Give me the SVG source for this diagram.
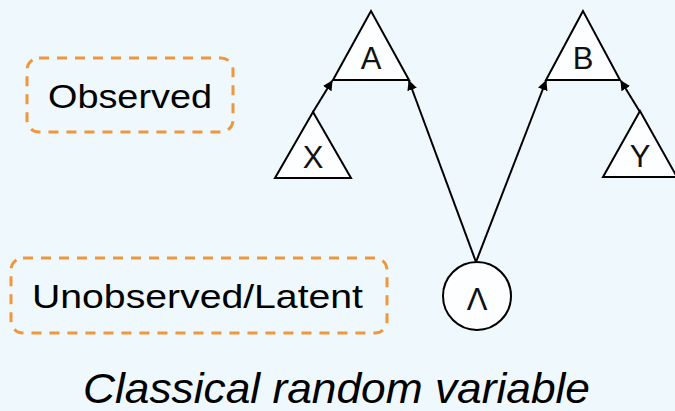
<svg xmlns="http://www.w3.org/2000/svg" width="675" height="411" viewBox="0 0 675 411">
  <defs>
    <style>
      .node { fill: #fcfeff; stroke: #000; stroke-width: 2; }
      .lbl { font-family: "Liberation Sans", Arial, sans-serif; font-size: 31px; fill: #111; text-anchor: middle; }
      .legend { fill: none; stroke: #f0963c; stroke-width: 3; stroke-dasharray: 10 8; }
      .legend-text { font-family: "Liberation Sans", Arial, sans-serif; font-size: 34px; fill: #000; }
      .edge { stroke: #000; stroke-width: 2; fill: none; marker-end: url(#arrow); }
    </style>
    <marker id="arrow" viewBox="0 0 10 10" refX="9" refY="5" markerWidth="5" markerHeight="5" orient="auto" markerUnits="strokeWidth">
      <path d="M0,0 L10,5 L0,10 z" fill="#000"/>
    </marker>
  </defs>

  <rect width="675" height="411" fill="#eff8fc"/>

  <!-- legend -->
  <g id="legend-observed">
    <rect class="legend" x="27" y="58" width="206" height="74" rx="12"/>
    <text class="legend-text" x="48" y="108" textLength="164" lengthAdjust="spacingAndGlyphs">Observed</text>
  </g>
  <g id="legend-latent">
    <rect class="legend" x="11" y="258" width="376" height="75" rx="12"/>
    <text class="legend-text" x="32" y="308" textLength="331" lengthAdjust="spacingAndGlyphs">Unobserved/Latent</text>
  </g>

  <!-- connectors -->
  <g id="edges">
    <line class="edge" x1="313" y1="112" x2="332" y2="81"/>
    <line class="edge" x1="476" y1="262" x2="409" y2="81"/>
    <line class="edge" x1="476" y1="262" x2="546" y2="81"/>
    <line class="edge" x1="640" y1="112" x2="621" y2="81"/>
  </g>

  <!-- nodes -->
  <g id="node-A">
    <polygon class="node" points="371,11 333,80 409,80"/>
    <text class="lbl" x="371" y="69">A</text>
  </g>
  <g id="node-B">
    <polygon class="node" points="583,11 546,80 620,80"/>
    <text class="lbl" x="583" y="69">B</text>
  </g>
  <g id="node-X">
    <polygon class="node" points="313,112 275,178 351,178"/>
    <text class="lbl" x="313" y="168">X</text>
  </g>
  <g id="node-Y">
    <polygon class="node" points="640,111 603,177 677,177"/>
    <text class="lbl" x="640" y="167">Y</text>
  </g>
  <g id="node-Lambda">
    <circle class="node" cx="477" cy="296" r="34"/>
    <text class="lbl" x="477" y="310" font-size="28">Λ</text>
  </g>

  <text x="83" y="403" font-family="'Liberation Sans', Arial, sans-serif" font-style="italic" font-size="43" fill="#000" textLength="507" lengthAdjust="spacingAndGlyphs">Classical random variable</text>
</svg>
